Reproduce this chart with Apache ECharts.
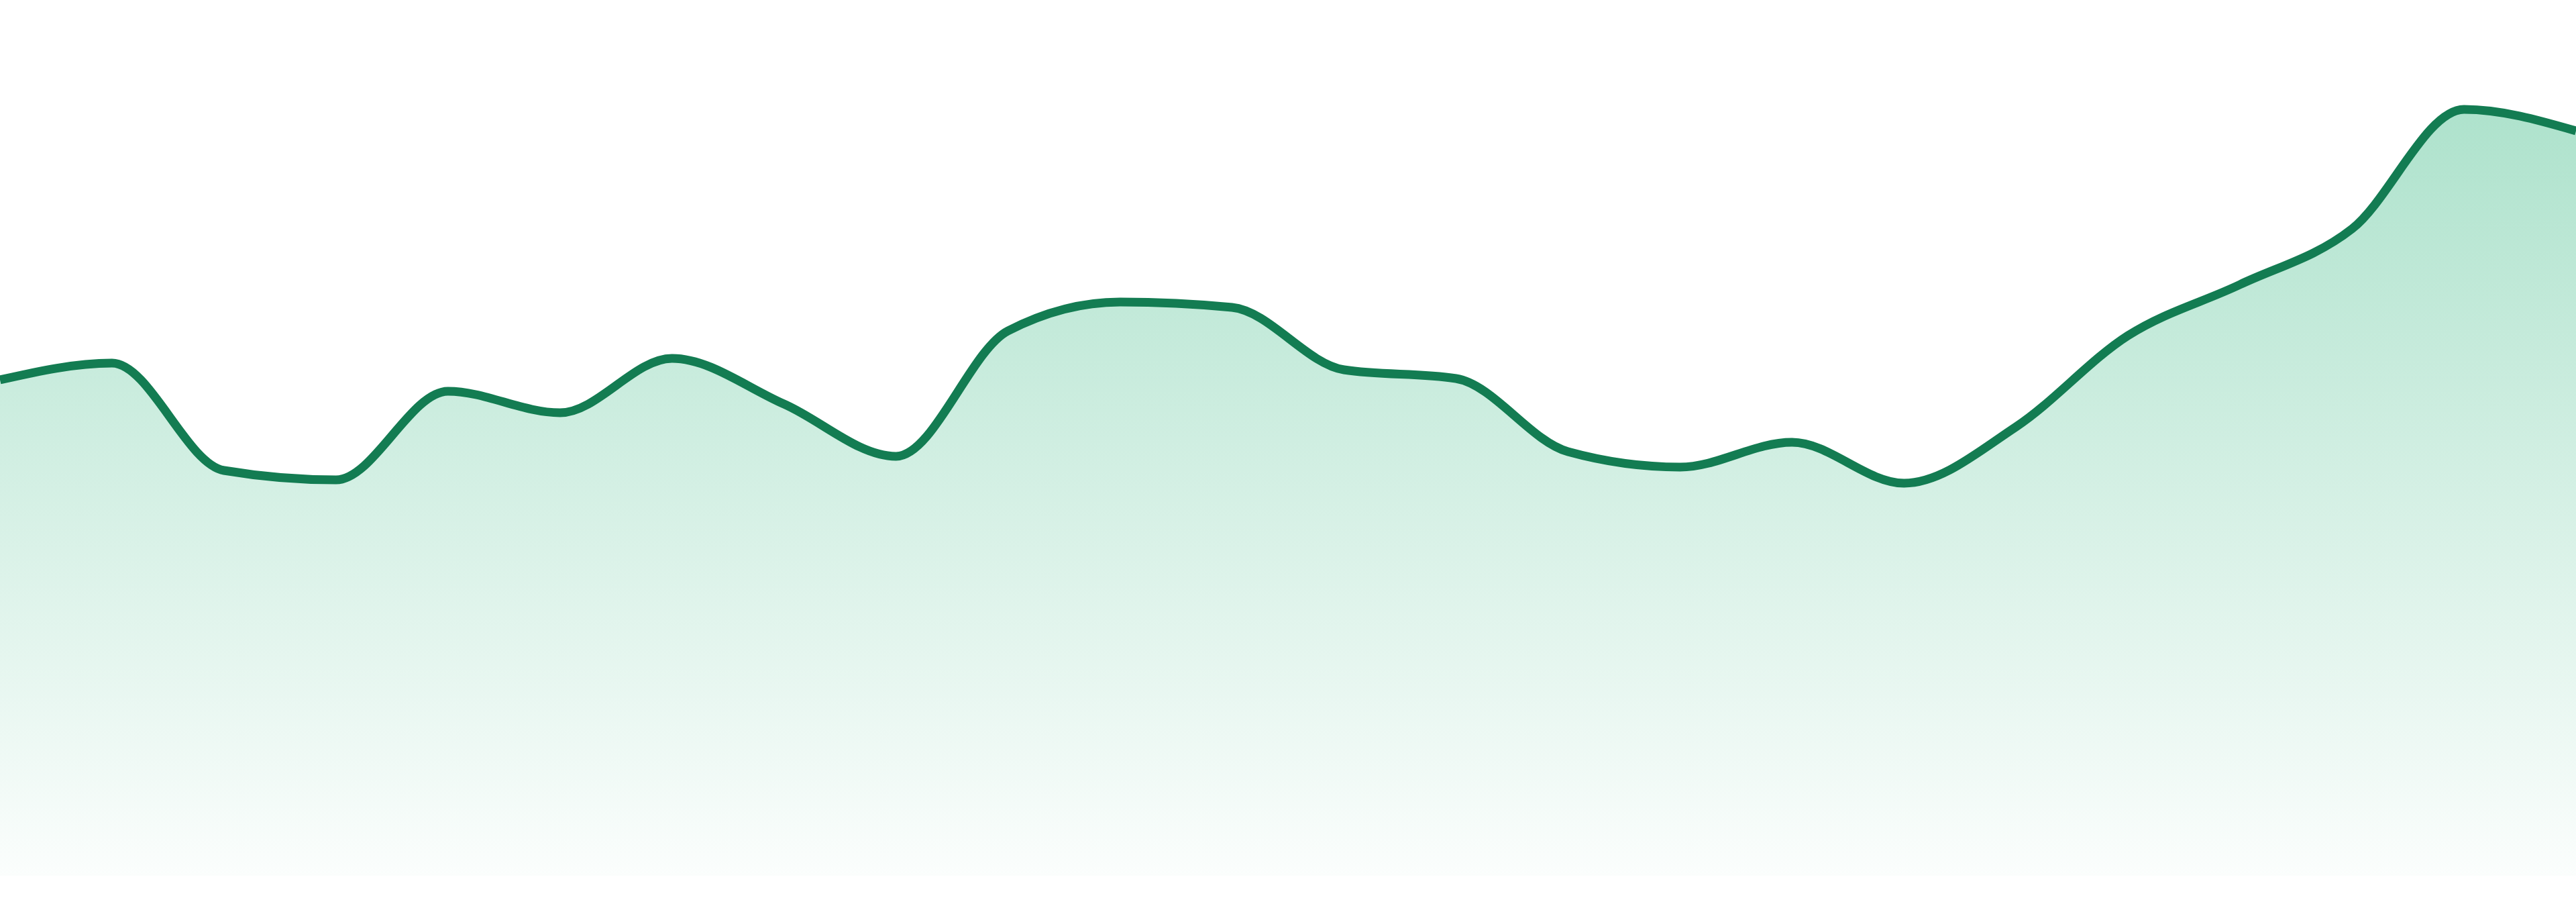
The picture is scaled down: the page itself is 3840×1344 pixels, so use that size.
<!DOCTYPE html>
<html>
<head>
<meta charset="utf-8">
<style>
  html, body { margin: 0; padding: 0; background: #ffffff; }
  #chart { width: 3840px; height: 1344px; }
</style>
<script src="https://cdn.jsdelivr.net/npm/echarts@6/dist/echarts.min.js"></script>
</head>
<body>
<div id="chart"></div>
<script>
const categories = ['1','2','3','4','5','6','7','8','9','10','11','12','13','14','15','16','17','18','19','20','21','22','23','24'];
const values = [73.9, 76.4, 60.4, 59.0, 72.2, 69.0, 77.1, 70.3, 62.5, 81.2, 85.5, 84.7,
                75.4, 74.1, 63.2, 60.9, 64.6, 58.5, 66.9, 80.5, 88.1, 96.4, 114.2, 111.0];
const yMin = 0;
const yMax = 130.5;

const lineColor = '#137c52';
const areaTop = 'rgba(52,183,128,0.40)';
const areaBottom = 'rgba(52,183,128,0.02)';

// Monotone cubic (Fritsch–Carlson style, as d3.curveMonotoneX) in pixel space
function sign(v) { return v < 0 ? -1 : 1; }
function slope3(p0, p1, p2) {
  const h0 = p1[0] - p0[0], h1 = p2[0] - p1[0];
  const s0 = (p1[1] - p0[1]) / h0, s1 = (p2[1] - p1[1]) / h1;
  const p = (s0 * h1 + s1 * h0) / (h0 + h1);
  return (sign(s0) + sign(s1)) * Math.min(Math.abs(s0), Math.abs(s1), 0.5 * Math.abs(p)) || 0;
}
function slope2(p0, p1, t) {
  const h = p1[0] - p0[0];
  return h ? (3 * (p1[1] - p0[1]) / h - t) / 2 : t;
}
function monotonePath(pts) {
  const n = pts.length;
  const t = new Array(n);
  for (let i = 1; i < n - 1; i++) t[i] = slope3(pts[i - 1], pts[i], pts[i + 1]);
  t[0] = slope2(pts[0], pts[1], t[1]);
  t[n - 1] = slope2(pts[n - 2], pts[n - 1], t[n - 2]);
  let d = 'M' + pts[0][0] + ' ' + pts[0][1];
  for (let i = 0; i < n - 1; i++) {
    const a = pts[i], b = pts[i + 1];
    const dx = (b[0] - a[0]) / 3;
    d += ' C' + (a[0] + dx) + ' ' + (a[1] + dx * t[i]) + ' ' +
         (b[0] - dx) + ' ' + (b[1] - dx * t[i + 1]) + ' ' + b[0] + ' ' + b[1];
  }
  return d;
}

const chart = echarts.init(document.getElementById('chart'), null, { renderer: 'canvas' });
chart.setOption({
  animation: false,
  backgroundColor: '#ffffff',
  grid: { left: 0, right: 0, top: 0, bottom: 39, containLabel: false },
  xAxis: {
    type: 'category',
    data: categories,
    boundaryGap: false,
    show: false
  },
  yAxis: {
    type: 'value',
    min: yMin,
    max: yMax,
    show: false
  },
  series: [{
    type: 'custom',
    coordinateSystem: 'cartesian2d',
    clip: false,
    data: values.map(function (v, i) { return [i, v]; }),
    encode: { x: 0, y: 1 },
    renderItem: function (params, api) {
      if (params.dataIndex !== 0) return null;
      const pts = values.map(function (v, i) { return api.coord([i, v]); });
      const base = api.coord([0, yMin])[1];
      const line = monotonePath(pts);
      const area = line + ' L' + pts[pts.length - 1][0] + ' ' + base +
                   ' L' + pts[0][0] + ' ' + base + ' Z';
      return {
        type: 'group',
        children: [
          {
            type: 'path',
            shape: { pathData: area },
            style: {
              fill: new echarts.graphic.LinearGradient(0, 0, 0, 1, [
                { offset: 0, color: areaTop },
                { offset: 1, color: areaBottom }
              ]),
              stroke: null
            }
          },
          {
            type: 'path',
            shape: { pathData: line },
            style: { fill: null, stroke: lineColor, lineWidth: 13, lineJoin: 'round', lineCap: 'butt' }
          }
        ]
      };
    }
  }]
});
</script>
</body>
</html>
